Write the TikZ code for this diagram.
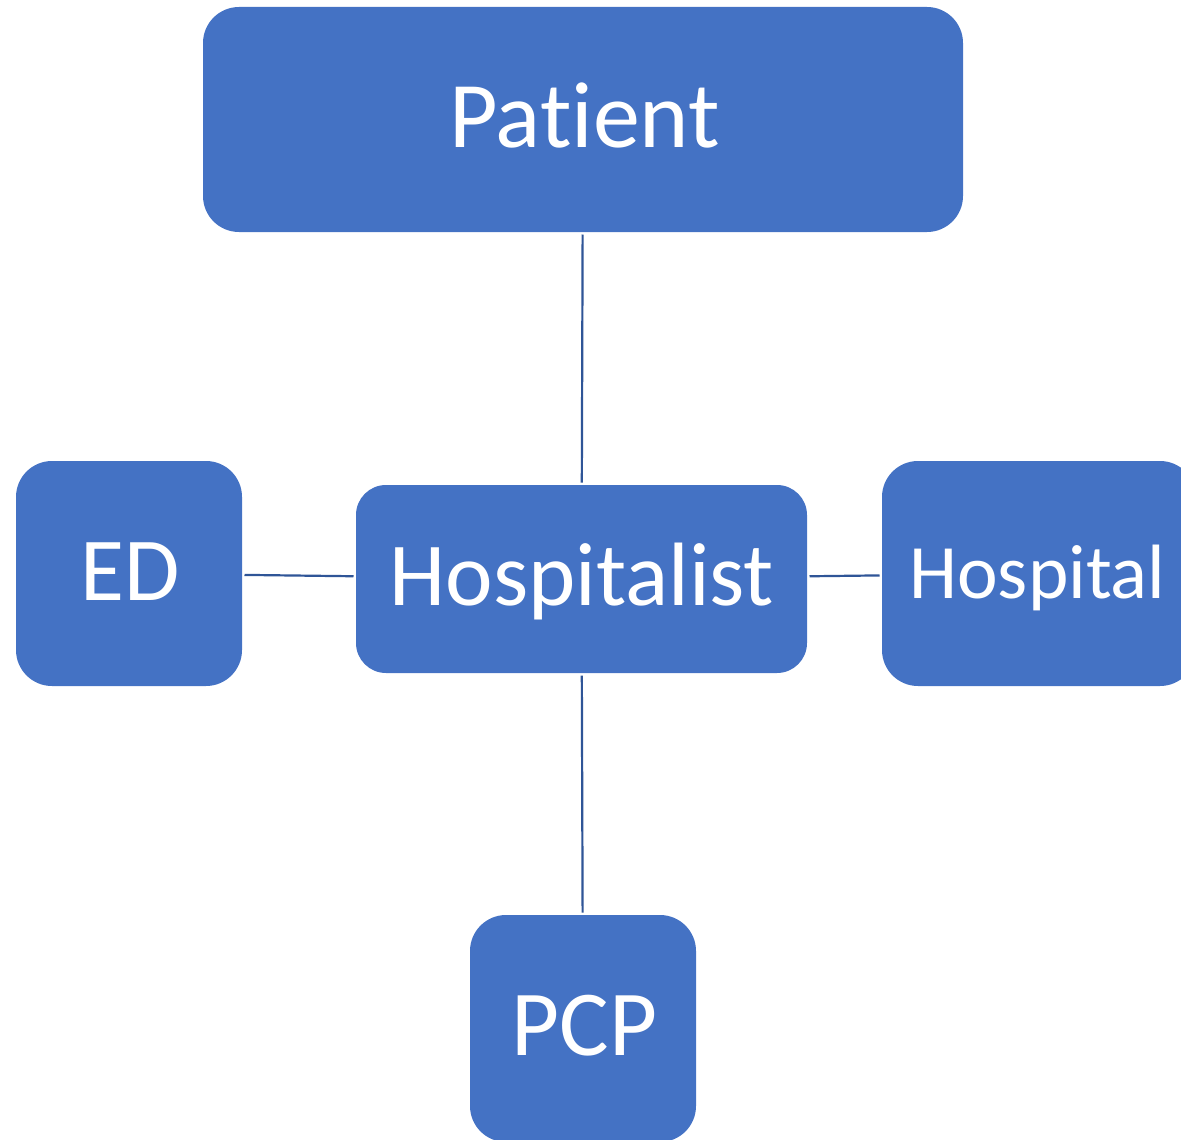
\documentclass[tikz,border=0pt]{standalone}
\usepackage{fontspec}
\setmainfont[Ligatures={NoCommon}]{Carlito}
\definecolor{boxblue}{HTML}{4472C4}
\definecolor{linkblue}{HTML}{2F5597}
\begin{document}
\begin{tikzpicture}[x=1pt,y=-1pt,
  box/.style={fill=boxblue,draw=none,rounded corners=36pt,outer sep=2.5pt,inner sep=0pt},
  lbl/.style={text=white,anchor=base,inner sep=0pt},
  link/.style={draw=linkblue,line width=2.2pt}]
\useasboundingbox (0,0) rectangle (1181,1140);
\clip (0,0) rectangle (1181,1140);
% boxes
\node[box,minimum width=760pt,minimum height=225pt] (patient) at (583,119.5) {};
\node[box,minimum width=226pt,minimum height=225pt] (ed) at (129,573.5) {};
\node[box,rounded corners=30pt,minimum width=451pt,minimum height=188pt] (hospitalist) at (581.5,579) {};
\node[box,minimum width=314pt,minimum height=225pt] (hospital) at (1039,573.5) {};
\node[box,minimum width=226pt,minimum height=227pt] (pcp) at (583,1028.5) {};
% labels
\node[lbl,font=\fontsize{94}{94}\selectfont] (tpatient) at (584.5,147) {Patient};
\node[lbl,font=\fontsize{90}{90}\selectfont] (ted) at (130.5,600) {ED};
\node[lbl,font=\fontsize{90}{90}\selectfont] (thospitalist) at (582,605) {Hospitalist};
\node[lbl,font=\fontsize{77}{77}\selectfont] (thospital) at (1037.5,598) {Hospital};
\node[lbl,font=\fontsize{93}{93}\selectfont] (tpcp) at (584.5,1055) {PCP};
% connectors
\draw[link] (patient) -- (hospitalist);
\draw[link] (ed) -- (hospitalist);
\draw[link] (hospitalist) -- (hospital);
\draw[link] (hospitalist) -- (pcp);
\end{tikzpicture}
\end{document}
